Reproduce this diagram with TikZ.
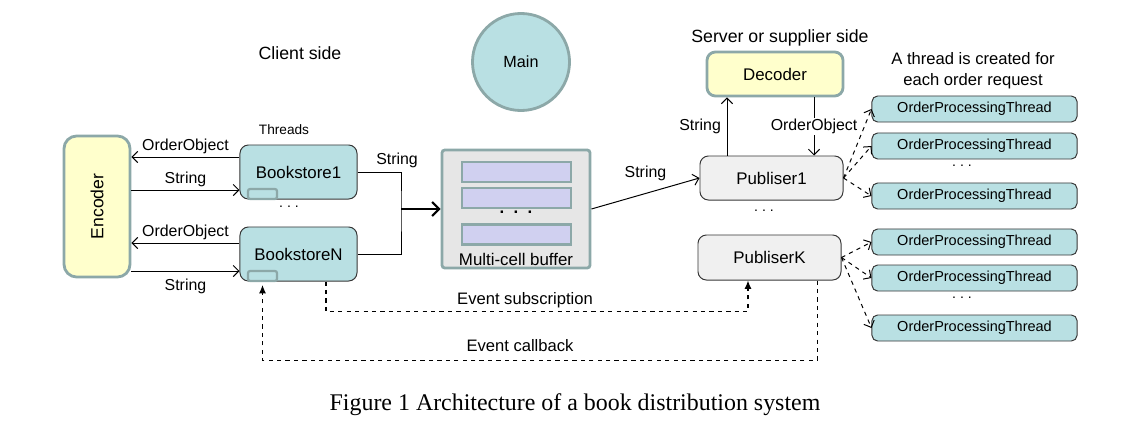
\documentclass[tikz,border=0pt]{standalone}
\usepackage{fontspec}
\usepackage{graphicx}
\setmainfont{Liberation Sans}
\newfontfamily\capfont{Liberation Serif}
\usetikzlibrary{arrows.meta}
\definecolor{tealfill}{RGB}{185,224,227}
\definecolor{yelfill}{RGB}{255,255,204}
\definecolor{rimgray}{RGB}{140,168,168}
\definecolor{buffill}{RGB}{230,230,230}
\definecolor{cellfill}{RGB}{208,208,240}
\definecolor{pubfill}{RGB}{240,240,240}
\definecolor{edgegray}{RGB}{55,55,55}
\tikzset{>={Straight Barb[length=4pt,width=8pt]},
         every picture/.style={line width=0.7pt},
         rimbox/.style={draw=rimgray, line width=2pt, rounded corners=6pt},
         store/.style={draw=edgegray, fill=tealfill, rounded corners=6pt,
                       minimum width=2.925cm, minimum height=1.35cm, font=\fontsize{12}{14}\selectfont},
         tag/.style={draw=rimgray, fill=tealfill, line width=1.6pt, rounded corners=1.5pt,
                     minimum width=0.725cm, minimum height=0.25cm, inner sep=0pt},
         cell/.style={draw=rimgray, fill=cellfill, line width=1.6pt,
                      minimum width=2.725cm, minimum height=0.5cm, inner sep=0pt},
         pub/.style={draw=edgegray, fill=pubfill, rounded corners=6pt,
                     minimum width=3.575cm, minimum height=1.1cm, font=\fontsize{12}{14}\selectfont},
         opt/.style={draw=edgegray, fill=tealfill, rounded corners=4pt,
                     minimum width=5.125cm, minimum height=0.65cm, font=\fontsize{10.3}{12}\selectfont},
         lbl/.style={font=\fontsize{11.3}{13}\selectfont, inner sep=2pt},
         dots/.style={font=\fontsize{10}{12}\selectfont},
         head/.style={font=\fontsize{12.6}{15}\selectfont, align=center},
         evt/.style={dashed, line width=0.8pt}}
\begin{document}
\begin{tikzpicture}[x=0.025cm, y=-0.025cm]
  \useasboundingbox (0,0) rectangle (1135,427);
  % titles
  \node[head] (client) at (300,53) {Client side};
  \node[head] (server) at (780,38) {Server or supplier side};
  \node[head, font=\fontsize{11.8}{15}\selectfont] (note) at (973,71) {A thread is created for\\each order request};
  \node[circle, draw=rimgray, line width=2pt, fill=tealfill, minimum size=2.425cm,
        font=\fontsize{11.5}{13}\selectfont] (main) at (521,62) {Main};
  % client side
  \node[rimbox, fill=yelfill, rounded corners=9pt, minimum width=1.65cm, minimum height=3.525cm,
        font=\fontsize{12.5}{14}\selectfont] (enc) at (97,206.5) {\rotatebox{90}{Encoder}};
  \node[store] (bs1) at (298.5,172) {Bookstore1};
  \node[store] (bsN) at (298.5,254) {BookstoreN};
  \node[tag] (bs1q) at (262.5,194) {};
  \node[tag] (bsNq) at (262.5,276) {};
  \node[lbl, font=\fontsize{9.7}{12}\selectfont] (thr) at (284,130) {Threads};
  \node[dots] (bsdots) at (289,207) {.\ .\ .};
  \draw[->] ([yshift=0.375cm]bs1.west) coordinate (a1) -- (a1 -| enc.east)
        node[lbl, midway, above] {OrderObject};
  \draw[->] ([yshift=-0.45cm]bs1.west -| enc.east) coordinate (a2) -- (a2 -| bs1.west)
        node[lbl, midway, above] {String};
  \draw[->] ([yshift=0.275cm]bsN.west) coordinate (a3) -- (a3 -| enc.east)
        node[lbl, midway, above] {OrderObject};
  \draw[->] ([yshift=-0.425cm]bsN.west -| enc.east) coordinate (a4) -- (a4 -| bsN.west)
        node[lbl, midway, below=3pt] {String};
  % buffer
  \node[rimbox, fill=buffill, rounded corners=2pt, minimum width=3.7cm, minimum height=2.95cm] (buf) at (516,209) {};
  \node[cell] (c1) at (516.5,172) {};
  \node[cell] (c2) at (516.5,198) {};
  \node[cell] (c3) at (516.5,234.5) {};
  \node[font=\bfseries\fontsize{12}{14}\selectfont] (bufdots) at (516,212) {.\ \ .\ \ .};
  \node[font=\fontsize{12}{14}\selectfont] (buflbl) at (516,259) {Multi-cell buffer};
  \coordinate (jn) at (401,209);
  \draw (bs1.east) -| (jn) |- (bsN.east);
  \node[lbl] (s0) at (397,160) {String};
  \draw[->, line width=1.5pt, >={Straight Barb[length=5pt,width=10pt]}] (jn) -- (buf.west);
  % server side
  \node[pub] (pub1) at (771.5,178) {Publiser1};
  \node[pub, minimum height=1.125cm] (pubK) at (769.5,257.5) {PubliserK};
  \node[dots] (pubdots) at (764,211) {.\ .\ .};
  \node[rimbox, fill=yelfill, minimum width=3.4cm, minimum height=1.1cm,
        font=\fontsize{12}{14}\selectfont] (dec) at (775,74) {Decoder};
  \draw[->] (buf.east) -- (pub1.west) node[lbl, midway, above=7pt] {String};
  \draw[->] ([xshift=-1.1125cm]pub1.north) coordinate (d1) -- (d1 |- dec.south)
        node[lbl, midway, left=2pt] {String};
  \draw[->] ([xshift=0.975cm]dec.south) coordinate (d2) -- (d2 |- pub1.north)
        node[lbl, midway, fill=white, inner sep=1pt] {OrderObject};
  \node[opt] (t1) at (974.5,109) {OrderProcessingThread};
  \node[opt] (t2) at (974.5,146) {OrderProcessingThread};
  \node[opt] (t3) at (974.5,196) {OrderProcessingThread};
  \node[opt] (t4) at (974.5,242) {OrderProcessingThread};
  \node[opt] (t5) at (974.5,278) {OrderProcessingThread};
  \node[opt] (t6) at (974.5,328) {OrderProcessingThread};
  \node[dots] (tdots1) at (962,166) {.\ .\ .};
  \node[dots] (tdots2) at (962,298) {.\ .\ .};
  \foreach \t in {t1,t2,t3} \draw[->, dashed] (pub1.east) -- (\t.west);
  \foreach \t in {t4,t5,t6} \draw[->, dashed] (pubK.east) -- (\t.west);
  % events
  \draw[evt, -{Latex[length=6pt,width=5pt]}] ([xshift=0.6875cm]bsN.south) -- ++(0,-0.75cm) -| ([xshift=-0.5375cm]pubK.south);
  \node[lbl, font=\fontsize{11.8}{13}\selectfont] (sub) at (525,300) {Event subscription};
  \draw[evt, -{Latex[length=6pt,width=5pt]}] ([xshift=1.19cm]pubK.south) -- ++(0,-2cm) -| ([yshift=-2pt]bsNq.south);
  \node[lbl, font=\fontsize{11.8}{13}\selectfont] (cb) at (520,346) {Event callback};
  % caption
  \node[font=\capfont\fontsize{17}{20}\selectfont] (cap) at (575,405) {Figure 1 Architecture of a book distribution system};
\end{tikzpicture}
\end{document}
